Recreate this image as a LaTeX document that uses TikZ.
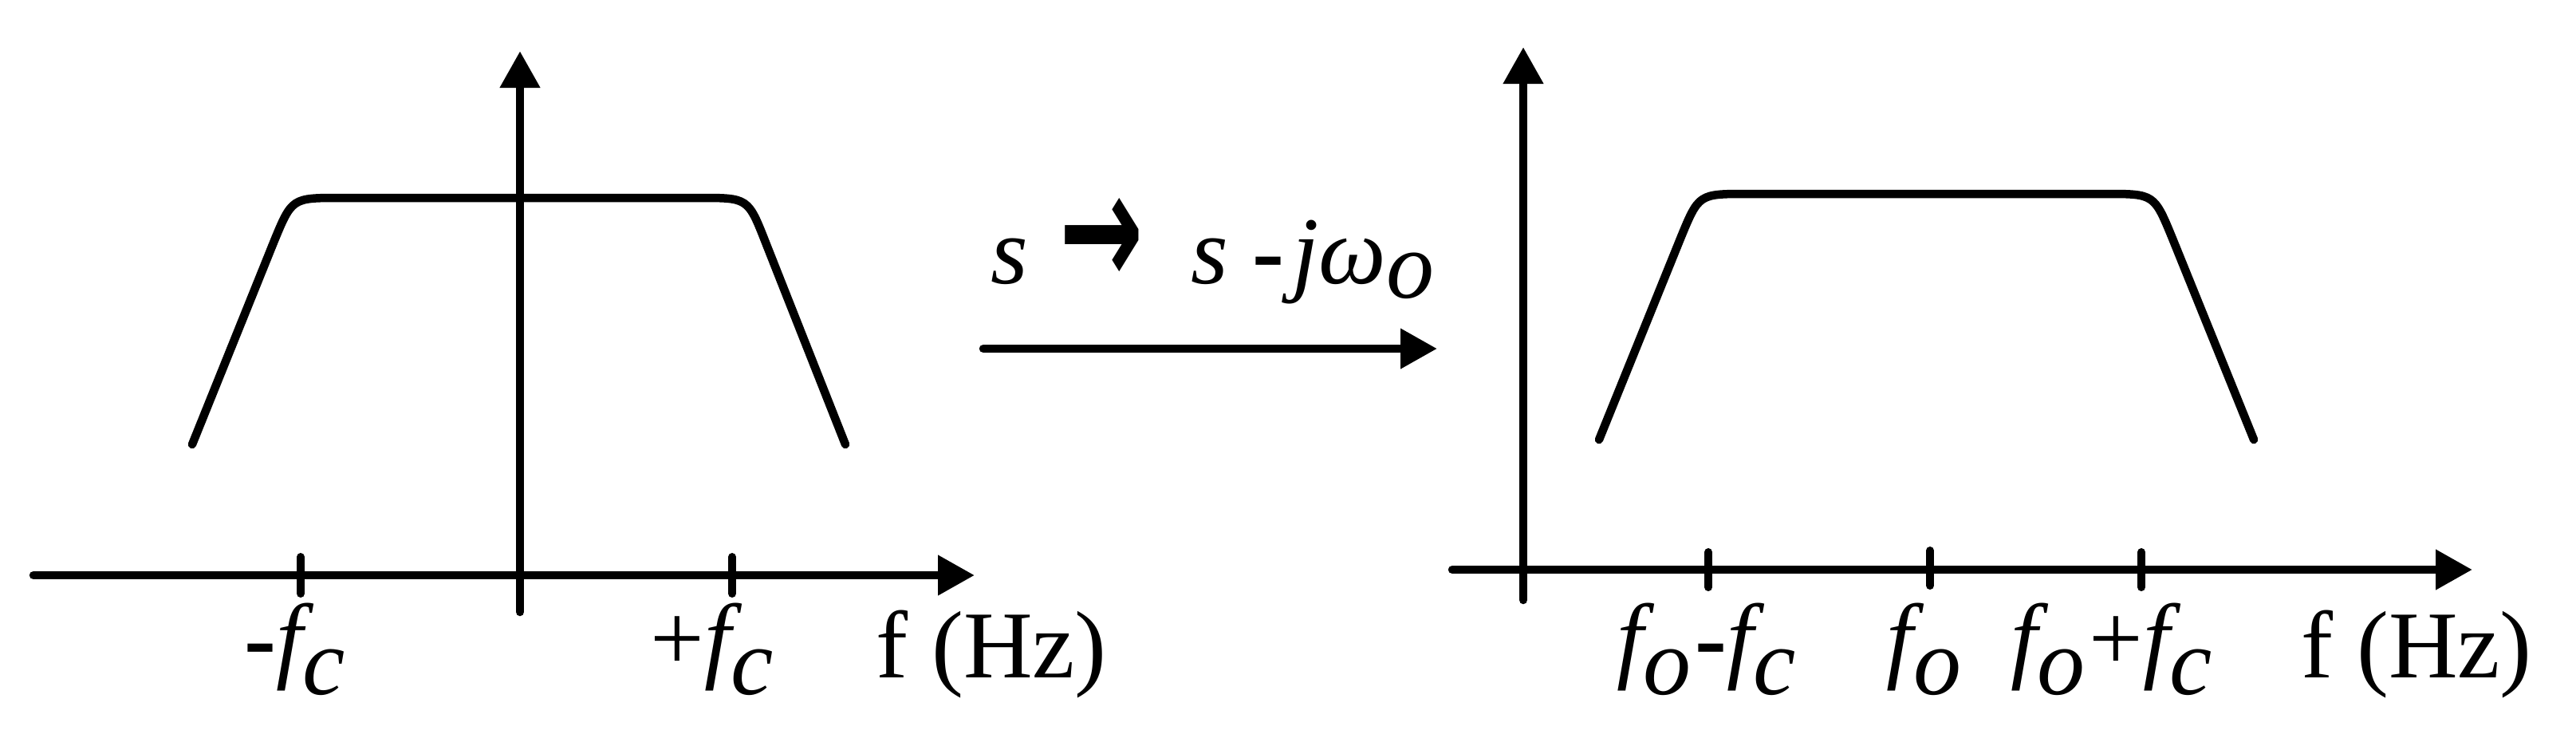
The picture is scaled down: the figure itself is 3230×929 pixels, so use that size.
\documentclass[tikz,border=0pt]{standalone}
\usepackage{fontspec}
\setmainfont{Liberation Serif}
\newfontfamily\arrowfont{DejaVu Sans}
\usetikzlibrary{arrows.meta}
\begin{document}
\begin{tikzpicture}[x=0.1pt,y=-0.1pt,
  ln/.style={line width=1.05pt, line cap=round, line join=round},
  ax/.style={ln, -{Triangle[length=4.6pt,width=4.8pt]}},
  tk/.style={line width=1pt, line cap=round},
  lbl/.style={inner sep=0pt, anchor=base, font=\fontsize{12}{14}\selectfont},
]
\useasboundingbox (0,0) rectangle (3230,929);
% ---------------- left plot
\coordinate (LxS) at (42,721);
\coordinate (LxE) at (1222,721);
\coordinate (LyS) at (652,767);
\coordinate (LyE) at (652,64);
\draw[ax] (LxS) -- (LxE);
\draw[ax] (LyS) -- (LyE);
\coordinate (Lt1a) at (377,698); \coordinate (Lt1b) at (377,744);
\coordinate (Lt2a) at (918,698); \coordinate (Lt2b) at (918,744);
\draw[tk] (Lt1a) -- (Lt1b);
\draw[tk] (Lt2a) -- (Lt2b);
\draw[ln] (241,557) -- (343,304) .. controls (366,248) .. (426,248)
  -- (878,248) .. controls (938,248) .. (960,304) -- (1060,557);
\node[lbl] (Lm) at (372,840) {\textbf{-}$\textit{f}_{\textit{c}}$};
\node[lbl] (Lp) at (895,840) {+$\textit{f}_{\textit{c}}$};
\node[lbl] (Lhz) at (1243,849) {f (Hz)};
% ---------------- middle
\node[lbl, anchor=base west] (form) at (1240,355)
  {\textit{s}\hspace{0.33em}{\arrowfont\bfseries\raisebox{-0.03em}{\scalebox{1.05}[1.7]{→}}}\hspace{0.5em}\textit{s} \textbf{-}\hspace{0.08em}\textit{jω}$_{\textit{o}}$};
\coordinate (MaS) at (1233,437);
\coordinate (MaE) at (1802,437);
\draw[ax] (MaS) -- (MaE);
% ---------------- right plot
\coordinate (RxS) at (1821,714);
\coordinate (RxE) at (3100,714);
\coordinate (RyS) at (1910,752);
\coordinate (RyE) at (1910,59);
\draw[ax] (RxS) -- (RxE);
\draw[ax] (RyS) -- (RyE);
\coordinate (Rt1a) at (2142,692); \coordinate (Rt1b) at (2142,736);
\coordinate (Rt2a) at (2420,690); \coordinate (Rt2b) at (2420,734);
\coordinate (Rt3a) at (2685,692); \coordinate (Rt3b) at (2685,736);
\draw[tk] (Rt1a) -- (Rt1b);
\draw[tk] (Rt2a) -- (Rt2b);
\draw[tk] (Rt3a) -- (Rt3b);
\draw[ln] (2005,551) -- (2107,299) .. controls (2130,243) .. (2190,243)
  -- (2641,243) .. controls (2701,243) .. (2724,299) -- (2826,551);
\node[lbl] (R1) at (2142,840) {$\textit{f}_{\textit{o}}$\textbf{-}$\textit{f}_{\textit{c}}$};
\node[lbl] (R2) at (2415,840) {$\textit{f}_{\textit{o}}$};
\node[lbl] (R3) at (2650,840) {$\textit{f}_{\textit{o}}$+$\textit{f}_{\textit{c}}$};
\node[lbl] (Rhz) at (3030,849) {f (Hz)};
\end{tikzpicture}
\end{document}
